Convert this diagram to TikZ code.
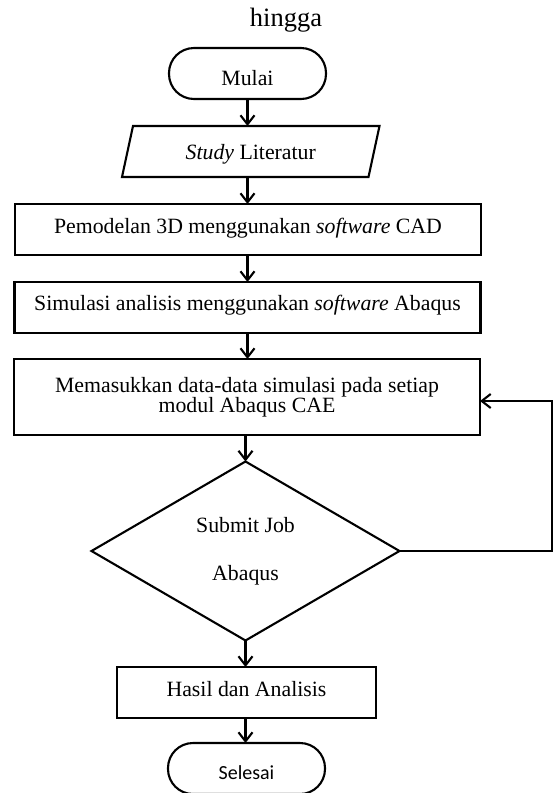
\documentclass[tikz,border=0pt]{standalone}
\usepackage{fontspec}
\setmainfont{Liberation Serif}
\newfontfamily\carlito{Carlito}
\usetikzlibrary{shapes.geometric,arrows.meta}
\begin{document}
\begin{tikzpicture}[x=1pt,y=-1pt,
  every node/.style={font=\fontsize{21.8pt}{20pt}\selectfont, inner sep=0pt, outer sep=0pt},
  shapeline/.style={line width=2.1pt},
  box/.style={draw, shapeline, rectangle, align=center},
  term/.style={draw, shapeline, rectangle, rounded corners=25pt, minimum width=157pt, minimum height=51pt},
  arr/.style={shapeline, -{Straight Barb[length=9pt,width=14pt]}},
  decision/.style={draw, shapeline, diamond, aspect=1, minimum width=308pt, minimum height=179pt, align=center, font=\fontsize{21.8pt}{48pt}\selectfont}
]
\useasboundingbox (0,0) rectangle (554,793);

\node[anchor=base, font=\fontsize{26.5pt}{30pt}\selectfont] (hingga) at (286,26.5) {hingga};

\node[term, text height=23pt, text depth=0pt] (mulai) at (247.5,73.5) {Mulai};

\node[minimum width=246.5pt, minimum height=51pt, text height=15.6pt, text depth=0pt] (lit) at (250.75,151.5) {\textit{Study} Literatur};
\draw[shapeline] ([xshift=5.5pt]lit.north west) -- ([xshift=5.5pt]lit.north east)
  -- ([xshift=-5.5pt]lit.south east) -- ([xshift=-5.5pt]lit.south west) -- cycle;

\node[box, minimum width=466pt, minimum height=51pt, text height=7pt, text depth=0pt] (m1) at (248,229.5) {Pemodelan 3D menggunakan \textit{software} CAD};
\node[box, minimum width=466pt, minimum height=51pt, text height=5pt, text depth=0pt] (m2) at (247.5,307.5) {Simulasi analisis menggunakan \textit{software} Abaqus};
\node[box, minimum width=466pt, minimum height=76pt] (m3) at (247,397) {Memasukkan data-data simulasi pada setiap\\modul Abaqus CAE};

\node[decision] (dia) at (245.5,551) {Submit Job\\Abaqus};

\node[box, minimum width=259pt, minimum height=51pt, text height=7pt, text depth=0pt] (hasil) at (246.5,692.5) {Hasil dan Analisis};

\node[term, minimum width=157pt, text height=21pt, text depth=0pt, font=\carlito\fontsize{20pt}{24pt}\selectfont] (selesai) at (246.5,768.5) {Selesai};

\coordinate (fb) at (552,551);

\draw[arr] (mulai.south) -- (mulai.south |- lit.north);
\draw[arr] (lit.south -| mulai.south) -- (mulai.south |- m1.north);
\draw[arr] (m1.south -| mulai.south) -- (mulai.south |- m2.north);
\draw[arr] (m2.south -| mulai.south) -- (mulai.south |- m3.north);
\draw[arr] (m3.south -| dia.north) -- (dia.north);
\draw[arr] (dia.south) -- (dia.south |- hasil.north);
\draw[arr] (hasil.south -| dia.south) -- (dia.south |- selesai.north);
\draw[arr] (dia.east) -- (fb) |- ([yshift=-4pt]m3.east);
\end{tikzpicture}
\end{document}
